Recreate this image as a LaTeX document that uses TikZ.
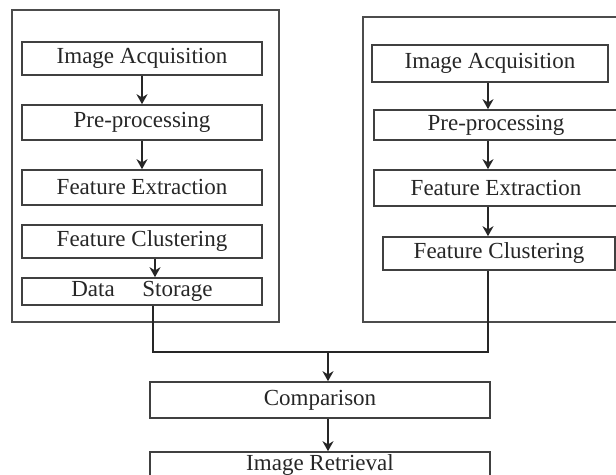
\documentclass[tikz,border=0pt]{standalone}
\usepackage{fontspec}
\setmainfont{Liberation Serif}
\usetikzlibrary{arrows.meta}

\begin{document}
\begin{tikzpicture}[x=0.5pt, y=-0.5pt, line width=0.8pt,
    stage/.style={draw=black!75, minimum width=#1, inner sep=0pt,
        font=\fontsize{11.5}{13}\selectfont, text=black!85},
    flow/.style={-{Stealth[length=5pt, width=5.5pt]}, draw=black!85}]

    \useasboundingbox (0,0) rectangle (616,475);

    % LEFT: database side
    \draw[black!70] (12,10) rectangle (279,322);
    \node[stage=120pt, minimum height=16.5pt] (lacq) at (142,58.5) {Image Acquisition};
    \node[stage=120pt, minimum height=17.5pt] (lpre) at (142,122.5) {Pre-processing};
    \node[stage=120pt, minimum height=17.5pt] (lfeat) at (142,187.5) {Feature Extraction};
    \node[stage=120pt, minimum height=16.5pt] (lclus) at (142,241.5) {Feature Clustering};
    \node[stage=120pt, minimum height=13.5pt] (lstore) at (142,291.5) {Data\hspace{1.2em}Storage};
    \draw[flow] (lacq) -- (lpre);
    \draw[flow] (lpre) -- (lfeat);
    \draw[flow] ([xshift=6.5pt]lclus.south) -- ([xshift=6.5pt]lstore.north);

    % RIGHT: query side
    \draw[black!70] (363,17) rectangle (640,322);
    \coordinate (rx) at (488,0);
    \node[stage=118pt, minimum height=18.5pt] (racq) at (490,63.5) {Image Acquisition};
    \node[stage=122pt, minimum height=15pt] (rpre) at (496,125) {Pre-processing};
    \node[stage=122pt, minimum height=18pt] (rfeat) at (496,188) {Feature Extraction};
    \node[stage=116pt, minimum height=16.5pt] (rclus) at (499,253.5) {Feature Clustering};
    \draw[flow] (racq.south -| rx) -- (rpre.north -| rx);
    \draw[flow] (rpre.south -| rx) -- (rfeat.north -| rx);
    \draw[flow] (rfeat.south -| rx) -- (rclus.north -| rx);

    % BOTTOM: matching
    \coordinate (jl) at (153,352);
    \coordinate (jr) at (488,352);
    \coordinate (jm) at (328,352);
    \node[stage=170pt, minimum height=18pt] (cmp) at (320,400) {Comparison};
    \node[stage=170pt, minimum height=13pt] (ret) at (320,465) {Image Retrieval};
    \draw[black!85] (lstore.south -| jl) -- (jl) -- (jr) -- (rclus.south -| jr);
    \draw[flow] (jm) -- (cmp.north -| jm);
    \draw[flow] (cmp.south -| jm) -- (ret.north -| jm);

\end{tikzpicture}
\end{document}
